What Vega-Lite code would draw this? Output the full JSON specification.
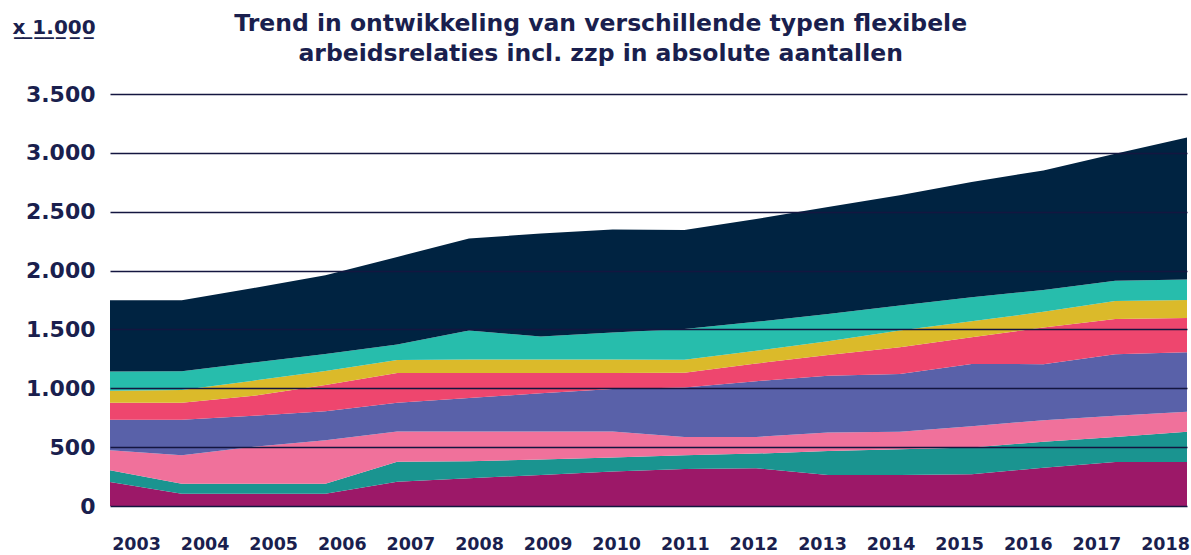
{
  "$schema": "https://vega.github.io/schema/vega-lite/v6.json",
  "width": 1077,
  "height": 412,
  "autosize": {"type": "none"},
  "padding": {"left": 110, "top": 94, "right": 4, "bottom": 49},
  "background": "white",
  "title": {
    "text": ["Trend in ontwikkeling van verschillende typen flexibele", "arbeidsrelaties incl. zzp in absolute aantallen"],
    "font": "DejaVu Sans",
    "fontSize": 23.5,
    "fontWeight": "bold",
    "color": "#1a1f4e",
    "lineHeight": 30,
    "anchor": "middle",
    "frame": "bounds",
    "baseline": "bottom",
    "offset": -72
  },
  "data": {
    "values": [
      {"jaar": 2003, "type": "Oproep/invalkrachten", "waarde": 204},
      {"jaar": 2003, "type": "Uitzendkrachten", "waarde": 100},
      {"jaar": 2003, "type": "Tijdelijk met uitzicht op vast", "waarde": 170},
      {"jaar": 2003, "type": "Tijdelijk < 1 jaar", "waarde": 259},
      {"jaar": 2003, "type": "Tijdelijk ≥ 1 jaar", "waarde": 145},
      {"jaar": 2003, "type": "Vaste uren, geen vast contract", "waarde": 102},
      {"jaar": 2003, "type": "Overig flexibel", "waarde": 162},
      {"jaar": 2003, "type": "Zzp", "waarde": 605},
      {"jaar": 2004, "type": "Oproep/invalkrachten", "waarde": 105},
      {"jaar": 2004, "type": "Uitzendkrachten", "waarde": 85},
      {"jaar": 2004, "type": "Tijdelijk met uitzicht op vast", "waarde": 242},
      {"jaar": 2004, "type": "Tijdelijk < 1 jaar", "waarde": 301},
      {"jaar": 2004, "type": "Tijdelijk ≥ 1 jaar", "waarde": 145},
      {"jaar": 2004, "type": "Vaste uren, geen vast contract", "waarde": 107},
      {"jaar": 2004, "type": "Overig flexibel", "waarde": 160},
      {"jaar": 2004, "type": "Zzp", "waarde": 602},
      {"jaar": 2005, "type": "Oproep/invalkrachten", "waarde": 105},
      {"jaar": 2005, "type": "Uitzendkrachten", "waarde": 85},
      {"jaar": 2005, "type": "Tijdelijk met uitzicht op vast", "waarde": 313},
      {"jaar": 2005, "type": "Tijdelijk < 1 jaar", "waarde": 264},
      {"jaar": 2005, "type": "Tijdelijk ≥ 1 jaar", "waarde": 170},
      {"jaar": 2005, "type": "Vaste uren, geen vast contract", "waarde": 128},
      {"jaar": 2005, "type": "Overig flexibel", "waarde": 153},
      {"jaar": 2005, "type": "Zzp", "waarde": 634},
      {"jaar": 2006, "type": "Oproep/invalkrachten", "waarde": 105},
      {"jaar": 2006, "type": "Uitzendkrachten", "waarde": 85},
      {"jaar": 2006, "type": "Tijdelijk met uitzicht op vast", "waarde": 369},
      {"jaar": 2006, "type": "Tijdelijk < 1 jaar", "waarde": 245},
      {"jaar": 2006, "type": "Tijdelijk ≥ 1 jaar", "waarde": 224},
      {"jaar": 2006, "type": "Vaste uren, geen vast contract", "waarde": 119},
      {"jaar": 2006, "type": "Overig flexibel", "waarde": 145},
      {"jaar": 2006, "type": "Zzp", "waarde": 668},
      {"jaar": 2007, "type": "Oproep/invalkrachten", "waarde": 207},
      {"jaar": 2007, "type": "Uitzendkrachten", "waarde": 168},
      {"jaar": 2007, "type": "Tijdelijk met uitzicht op vast", "waarde": 258},
      {"jaar": 2007, "type": "Tijdelijk < 1 jaar", "waarde": 245},
      {"jaar": 2007, "type": "Tijdelijk ≥ 1 jaar", "waarde": 252},
      {"jaar": 2007, "type": "Vaste uren, geen vast contract", "waarde": 111},
      {"jaar": 2007, "type": "Overig flexibel", "waarde": 131},
      {"jaar": 2007, "type": "Zzp", "waarde": 744},
      {"jaar": 2008, "type": "Oproep/invalkrachten", "waarde": 236},
      {"jaar": 2008, "type": "Uitzendkrachten", "waarde": 145},
      {"jaar": 2008, "type": "Tijdelijk met uitzicht op vast", "waarde": 252},
      {"jaar": 2008, "type": "Tijdelijk < 1 jaar", "waarde": 284},
      {"jaar": 2008, "type": "Tijdelijk ≥ 1 jaar", "waarde": 213},
      {"jaar": 2008, "type": "Vaste uren, geen vast contract", "waarde": 114},
      {"jaar": 2008, "type": "Overig flexibel", "waarde": 247},
      {"jaar": 2008, "type": "Zzp", "waarde": 781},
      {"jaar": 2009, "type": "Oproep/invalkrachten", "waarde": 264},
      {"jaar": 2009, "type": "Uitzendkrachten", "waarde": 131},
      {"jaar": 2009, "type": "Tijdelijk met uitzicht op vast", "waarde": 238},
      {"jaar": 2009, "type": "Tijdelijk < 1 jaar", "waarde": 324},
      {"jaar": 2009, "type": "Tijdelijk ≥ 1 jaar", "waarde": 173},
      {"jaar": 2009, "type": "Vaste uren, geen vast contract", "waarde": 114},
      {"jaar": 2009, "type": "Overig flexibel", "waarde": 196},
      {"jaar": 2009, "type": "Zzp", "waarde": 875},
      {"jaar": 2010, "type": "Oproep/invalkrachten", "waarde": 293},
      {"jaar": 2010, "type": "Uitzendkrachten", "waarde": 119},
      {"jaar": 2010, "type": "Tijdelijk met uitzicht op vast", "waarde": 221},
      {"jaar": 2010, "type": "Tijdelijk < 1 jaar", "waarde": 361},
      {"jaar": 2010, "type": "Tijdelijk ≥ 1 jaar", "waarde": 136},
      {"jaar": 2010, "type": "Vaste uren, geen vast contract", "waarde": 114},
      {"jaar": 2010, "type": "Overig flexibel", "waarde": 230},
      {"jaar": 2010, "type": "Zzp", "waarde": 875},
      {"jaar": 2011, "type": "Oproep/invalkrachten", "waarde": 315},
      {"jaar": 2011, "type": "Uitzendkrachten", "waarde": 116},
      {"jaar": 2011, "type": "Tijdelijk met uitzicht op vast", "waarde": 156},
      {"jaar": 2011, "type": "Tijdelijk < 1 jaar", "waarde": 419},
      {"jaar": 2011, "type": "Tijdelijk ≥ 1 jaar", "waarde": 125},
      {"jaar": 2011, "type": "Vaste uren, geen vast contract", "waarde": 111},
      {"jaar": 2011, "type": "Overig flexibel", "waarde": 261},
      {"jaar": 2011, "type": "Zzp", "waarde": 842},
      {"jaar": 2012, "type": "Oproep/invalkrachten", "waarde": 320},
      {"jaar": 2012, "type": "Uitzendkrachten", "waarde": 125},
      {"jaar": 2012, "type": "Tijdelijk met uitzicht op vast", "waarde": 142},
      {"jaar": 2012, "type": "Tijdelijk < 1 jaar", "waarde": 473},
      {"jaar": 2012, "type": "Tijdelijk ≥ 1 jaar", "waarde": 150},
      {"jaar": 2012, "type": "Vaste uren, geen vast contract", "waarde": 108},
      {"jaar": 2012, "type": "Overig flexibel", "waarde": 247},
      {"jaar": 2012, "type": "Zzp", "waarde": 873},
      {"jaar": 2013, "type": "Oproep/invalkrachten", "waarde": 264},
      {"jaar": 2013, "type": "Uitzendkrachten", "waarde": 204},
      {"jaar": 2013, "type": "Tijdelijk met uitzicht op vast", "waarde": 156},
      {"jaar": 2013, "type": "Tijdelijk < 1 jaar", "waarde": 483},
      {"jaar": 2013, "type": "Tijdelijk ≥ 1 jaar", "waarde": 176},
      {"jaar": 2013, "type": "Vaste uren, geen vast contract", "waarde": 116},
      {"jaar": 2013, "type": "Overig flexibel", "waarde": 233},
      {"jaar": 2013, "type": "Zzp", "waarde": 908},
      {"jaar": 2014, "type": "Oproep/invalkrachten", "waarde": 264},
      {"jaar": 2014, "type": "Uitzendkrachten", "waarde": 218},
      {"jaar": 2014, "type": "Tijdelijk met uitzicht op vast", "waarde": 148},
      {"jaar": 2014, "type": "Tijdelijk < 1 jaar", "waarde": 491},
      {"jaar": 2014, "type": "Tijdelijk ≥ 1 jaar", "waarde": 227},
      {"jaar": 2014, "type": "Vaste uren, geen vast contract", "waarde": 142},
      {"jaar": 2014, "type": "Overig flexibel", "waarde": 213},
      {"jaar": 2014, "type": "Zzp", "waarde": 936},
      {"jaar": 2015, "type": "Oproep/invalkrachten", "waarde": 270},
      {"jaar": 2015, "type": "Uitzendkrachten", "waarde": 227},
      {"jaar": 2015, "type": "Tijdelijk met uitzicht op vast", "waarde": 181},
      {"jaar": 2015, "type": "Tijdelijk < 1 jaar", "waarde": 528},
      {"jaar": 2015, "type": "Tijdelijk ≥ 1 jaar", "waarde": 227},
      {"jaar": 2015, "type": "Vaste uren, geen vast contract", "waarde": 136},
      {"jaar": 2015, "type": "Overig flexibel", "waarde": 205},
      {"jaar": 2015, "type": "Zzp", "waarde": 979},
      {"jaar": 2016, "type": "Oproep/invalkrachten", "waarde": 326},
      {"jaar": 2016, "type": "Uitzendkrachten", "waarde": 219},
      {"jaar": 2016, "type": "Tijdelijk met uitzicht op vast", "waarde": 184},
      {"jaar": 2016, "type": "Tijdelijk < 1 jaar", "waarde": 476},
      {"jaar": 2016, "type": "Tijdelijk ≥ 1 jaar", "waarde": 312},
      {"jaar": 2016, "type": "Vaste uren, geen vast contract", "waarde": 133},
      {"jaar": 2016, "type": "Overig flexibel", "waarde": 185},
      {"jaar": 2016, "type": "Zzp", "waarde": 1015},
      {"jaar": 2017, "type": "Oproep/invalkrachten", "waarde": 374},
      {"jaar": 2017, "type": "Uitzendkrachten", "waarde": 213},
      {"jaar": 2017, "type": "Tijdelijk met uitzicht op vast", "waarde": 179},
      {"jaar": 2017, "type": "Tijdelijk < 1 jaar", "waarde": 524},
      {"jaar": 2017, "type": "Tijdelijk ≥ 1 jaar", "waarde": 298},
      {"jaar": 2017, "type": "Vaste uren, geen vast contract", "waarde": 153},
      {"jaar": 2017, "type": "Overig flexibel", "waarde": 173},
      {"jaar": 2017, "type": "Zzp", "waarde": 1078},
      {"jaar": 2018, "type": "Oproep/invalkrachten", "waarde": 374},
      {"jaar": 2018, "type": "Uitzendkrachten", "waarde": 256},
      {"jaar": 2018, "type": "Tijdelijk met uitzicht op vast", "waarde": 170},
      {"jaar": 2018, "type": "Tijdelijk < 1 jaar", "waarde": 506},
      {"jaar": 2018, "type": "Tijdelijk ≥ 1 jaar", "waarde": 292},
      {"jaar": 2018, "type": "Vaste uren, geen vast contract", "waarde": 153},
      {"jaar": 2018, "type": "Overig flexibel", "waarde": 173},
      {"jaar": 2018, "type": "Zzp", "waarde": 1206}
    ]
  },
  "transform": [
    {"calculate": "indexof(['Oproep/invalkrachten','Uitzendkrachten','Tijdelijk met uitzicht op vast','Tijdelijk < 1 jaar','Tijdelijk ≥ 1 jaar','Vaste uren, geen vast contract','Overig flexibel','Zzp'], datum.type)", "as": "volgorde"}
  ],
  "mark": {"type": "area", "interpolate": "linear", "opacity": 1},
  "encoding": {
    "x": {
      "field": "jaar",
      "type": "quantitative",
      "scale": {"domain": [2003, 2018], "nice": false, "zero": false},
      "axis": {
        "title": null,
        "values": [2003, 2004, 2005, 2006, 2007, 2008, 2009, 2010, 2011, 2012, 2013, 2014, 2015, 2016, 2017, 2018],
        "format": "d",
        "domain": false,
        "ticks": false,
        "grid": false,
        "labelFont": "DejaVu Sans",
        "labelFontWeight": "bold",
        "labelFontSize": 17.5,
        "labelColor": "#1a1f4e",
        "labelPadding": 29,
        "labelAlign": "center",
        "labelOffset": {"expr": "26 - 3.2 * (datum.value - 2003)"},
        "labelOverlap": false,
        "labelBound": false,
        "labelFlush": false
      }
    },
    "y": {
      "field": "waarde",
      "type": "quantitative",
      "stack": "zero",
      "scale": {"domain": [0, 3500], "nice": false},
      "axis": {
        "title": "x\u0332 \u03321\u0332.\u03320\u03320\u03320\u0332",
        "titleAngle": 0,
        "titleAlign": "left",
        "titleBaseline": "alphabetic",
        "titleX": -98,
        "titleY": -61,
        "titleFont": "DejaVu Sans",
        "titleFontSize": 20,
        "titleFontWeight": "bold",
        "titleColor": "#1a1f4e",
        "values": [0, 500, 1000, 1500, 2000, 2500, 3000, 3500],
        "labelExpr": "replace(format(datum.value, ','), ',', '.')",
        "domain": false,
        "ticks": false,
        "grid": true,
        "gridColor": "#141640",
        "gridWidth": 1.5,
        "gridOpacity": 1,
        "zindex": 1,
        "labelFont": "DejaVu Sans",
        "labelFontWeight": "bold",
        "labelFontSize": 22,
        "labelColor": "#1a1f4e",
        "labelPadding": 15
      }
    },
    "color": {
      "field": "type",
      "type": "nominal",
      "scale": {
        "domain": ["Oproep/invalkrachten", "Uitzendkrachten", "Tijdelijk met uitzicht op vast", "Tijdelijk < 1 jaar", "Tijdelijk ≥ 1 jaar", "Vaste uren, geen vast contract", "Overig flexibel", "Zzp"],
        "range": ["#9c1868", "#1a9490", "#f0719b", "#5961a9", "#ee466e", "#dbba2a", "#27bdac", "#002341"]
      },
      "legend": null
    },
    "order": {"field": "volgorde", "type": "quantitative"}
  },
  "config": {"view": {"stroke": null}}
}
